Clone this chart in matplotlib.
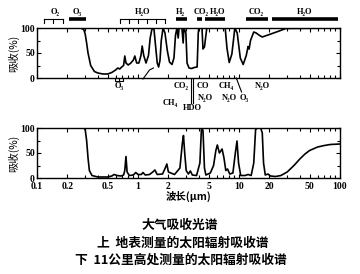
import matplotlib
matplotlib.use('Agg')
import matplotlib.pyplot as plt
from matplotlib.ticker import FixedLocator, LogLocator, NullFormatter

plt.rcParams['font.family'] = ['Liberation Serif', 'DejaVu Serif', 'Noto Sans CJK SC']

# ground level absorption (upper panel)
lam_top = [0.1, 0.27, 0.29, 0.3, 0.31, 0.32, 0.34, 0.37, 0.4, 0.45, 0.5, 0.55,
           0.6, 0.63, 0.66, 0.69, 0.72, 0.74, 0.76, 0.8, 0.85, 0.9, 0.93, 0.97,
           1.02, 1.07, 1.1, 1.14, 1.2, 1.27, 1.32, 1.38, 1.44, 1.5, 1.55, 1.6,
           1.65, 1.7, 1.77, 1.85, 1.95, 2.05, 2.17, 2.27, 2.35, 2.43, 2.5, 2.55,
           2.72, 2.8, 2.85, 2.98, 3.06, 3.2, 3.4, 3.6, 3.85, 3.95, 4.0, 4.3, 4.4,
           4.55, 4.8, 7.3, 7.6, 8.0, 8.5, 9.1, 9.6, 10.3, 11.0, 11.8, 12.3, 12.6,
           13.0, 14.0, 14.8, 16.0, 17.0, 20.0, 25.0, 29.0, 100]
abs_top = [100, 100, 97, 88, 70, 50, 25, 13, 10, 8, 8, 11,
           16, 20, 18, 22, 25, 44, 30, 26, 30, 36, 44, 30,
           30, 45, 64, 45, 30, 45, 80, 100, 97, 60, 30, 22,
           35, 75, 100, 90, 55, 32, 27, 40, 85, 100, 80, 100,
           100, 70, 100, 90, 30, 20, 19, 21, 22, 90, 100, 100, 58,
           62, 100, 100, 60, 31, 48, 100, 90, 40, 27, 45, 63, 58,
           75, 92, 90, 85, 82, 87, 94, 99, 100]

# 11 km altitude absorption (lower panel)
lam_bot = [0.1, 0.29, 0.3, 0.31, 0.32, 0.33, 0.35, 0.4, 0.5, 0.55, 0.58, 0.62,
           0.68, 0.72, 0.74, 0.76, 0.78, 0.82, 0.9, 0.95, 1.0, 1.08, 1.12, 1.18,
           1.3, 1.4, 1.47, 1.55, 1.75, 1.88, 1.93, 2.0, 2.3, 2.6, 2.75, 2.82,
           2.9, 3.0, 3.15, 3.3, 3.45, 3.8, 4.1, 4.25, 4.4, 4.55, 4.7, 5.2, 5.6,
           5.9, 6.1, 6.4, 6.8, 7.1, 7.4, 7.7, 8.1, 8.7, 9.2, 9.55, 9.9, 10.4,
           11.5, 12.3, 13.2, 14.0, 14.6, 15.2, 16.4, 17.0, 17.5, 18.2, 19.3,
           20.5, 23, 26, 30, 35, 40, 45, 50, 60, 70, 80, 100]
abs_bot = [100, 100, 97, 75, 40, 15, 5, 2, 2, 4, 7, 5,
           4, 6, 15, 43, 12, 5, 6, 11, 7, 7, 11, 6,
           7, 12, 16, 7, 8, 22, 28, 12, 7, 20, 70, 85,
           50, 15, 8, 14, 6, 5, 30, 100, 95, 20, 6, 10, 25,
           55, 66, 50, 58, 40, 15, 18, 8, 10, 50, 74, 30, 5,
           5, 7, 5, 30, 97, 100, 100, 90, 30, 6, 8,
           4, 3, 5, 12, 25, 38, 48, 55, 62, 65, 67, 68]

xtick_vals = [0.1, 0.2, 0.5, 1, 2, 5, 10, 20, 50, 100]
xtick_text = ['0.1', '0.2', '0.5', '1', '2', '5', '10', '20', '50', '100']

# labels above the upper panel: (text, x, bar start, bar end, bracket?)
top_bands = [('O₂', 0.15, 0.117, 0.181, True),
             ('O₃', 0.25, 0.207, 0.306, False),
             ('H₂O', 1.1, 0.66, 1.85, True),
             ('H₂', 2.65, 2.37, 3.06, False),
             ('CO₂', 4.25, 3.85, 4.3, False),
             ('H₂O', 6.2, 4.65, 7.3, False),
             ('CO₂', 14.7, 11.7, 19.3, False),
             ('H₂O', 45, 21, 95, False)]

# labels below the upper panel: (text, x, y in axes fraction)
low_labels = [('O₃', 0.65, -0.15), ('CO₂', 2.67, -0.15), ('CH₄', 2.1, -0.5),
              ('HDO', 3.45, -0.6), ('CO', 4.41, -0.15), ('N₂O', 4.6, -0.39),
              ('CH₄', 7.4, -0.15), ('N₂O', 7.95, -0.39), ('O₃', 11.2, -0.39),
              ('N₂O', 17.2, -0.15)]

fig = plt.figure(figsize=(3.6, 2.74), dpi=100)
ax1 = fig.add_axes([37 / 360, 1 - 78 / 274, 303 / 360, 50 / 274])
ax2 = fig.add_axes([37 / 360, 1 - 178 / 274, 303 / 360, 50 / 274])

ax1.plot(lam_top, abs_top, color='black', lw=1.2)
ax2.plot(lam_bot, abs_bot, color='black', lw=1.2)

for ax in (ax1, ax2):
    ax.set_xscale('log')
    ax.set_xlim(0.1, 100)
    ax.set_ylim(0, 100)
    ax.xaxis.set_major_locator(FixedLocator(xtick_vals))
    ax.xaxis.set_minor_locator(LogLocator(subs=range(1, 10)))
    ax.xaxis.set_minor_formatter(NullFormatter())
    ax.set_yticks([0, 50, 100])
    ax.set_yticks([25, 75], minor=True)
    ax.tick_params(which='both', direction='in', top=True, right=True,
                   width=0.8, labelsize=7, pad=1.5)
    ax.tick_params(axis='x', pad=3)
    ax.tick_params(which='major', length=3)
    ax.tick_params(which='minor', length=2)
    for sp in ax.spines.values():
        sp.set_linewidth(1.0)
    for lab in ax.get_yticklabels():
        lab.set_fontweight('bold')
    ax.set_ylabel('吸收(%)', family=['Noto Sans CJK SC'], fontsize=7.5, labelpad=1)

ax1.set_xticklabels([])
ax2.set_xticklabels(xtick_text, fontweight='bold')
ax2.set_xlabel('波长(μm)', family=['Noto Sans CJK SC', 'DejaVu Sans'],
               fontsize=7.5, fontweight='bold', labelpad=0)

tr = ax1.get_xaxis_transform()
for name, xc, x0, x1, bracket in top_bands:
    ax1.text(xc, 1.32, name, transform=tr, ha='center', va='center',
             fontsize=6, fontweight='bold', clip_on=False)
    if bracket:
        ax1.plot([x0, x1], [1.18, 1.18], color='black', lw=0.8,
                 transform=tr, clip_on=False)
        n = 3 if name == 'O₂' else 6
        for i in range(n):
            xt = x0 * (x1 / x0) ** (i / (n - 1))
            ax1.plot([xt, xt], [1.18, 1.1], color='black', lw=0.8,
                     transform=tr, clip_on=False)
    else:
        ax1.plot([x0, x1], [1.18, 1.18], color='black', lw=2.6,
                 solid_capstyle='butt', transform=tr, clip_on=False)

for name, xc, yc in low_labels:
    ax1.text(xc, yc, name, transform=tr, ha='center', va='center',
             fontsize=6, fontweight='bold', clip_on=False)

# bracket under O3 and leader lines
ax1.plot([0.59, 0.59, 0.71, 0.71], [0.0, -0.05, -0.05, 0.0], color='black',
         lw=0.8, transform=tr, clip_on=False)
ax1.plot([0.65, 0.65], [-0.05, 0.0], color='black', lw=0.8, transform=tr, clip_on=False)
for xl in (3.33, 3.49):
    ax1.plot([xl, xl], [0.0, -0.5], color='black', lw=0.8, transform=tr, clip_on=False)
ax1.plot([9.4, 10.6], [0.0, -0.28], color='black', lw=0.8, transform=tr, clip_on=False)
ax1.plot([1.12, 1.3, 1.42], [-0.02, 0.16, 0.2], color='black', lw=0.8,
         transform=tr, clip_on=False)

cjk = ['Noto Sans CJK SC', 'DejaVu Sans']
fig.text(0.5, 1 - 225 / 274, '大气吸收光谱', family=cjk, fontsize=9.2,
         fontweight='bold', ha='center', va='center')
fig.text(0.508, 1 - 243 / 274, '上  地表测量的太阳辐射吸收谱', family=cjk, fontsize=9.2,
         fontweight='bold', ha='center', va='center')
fig.text(0.503, 1 - 260 / 274, '下  11公里高处测量的太阳辐射吸收谱', family=cjk, fontsize=9.2,
         fontweight='bold', ha='center', va='center')

fig.savefig('out.png', dpi=100)
